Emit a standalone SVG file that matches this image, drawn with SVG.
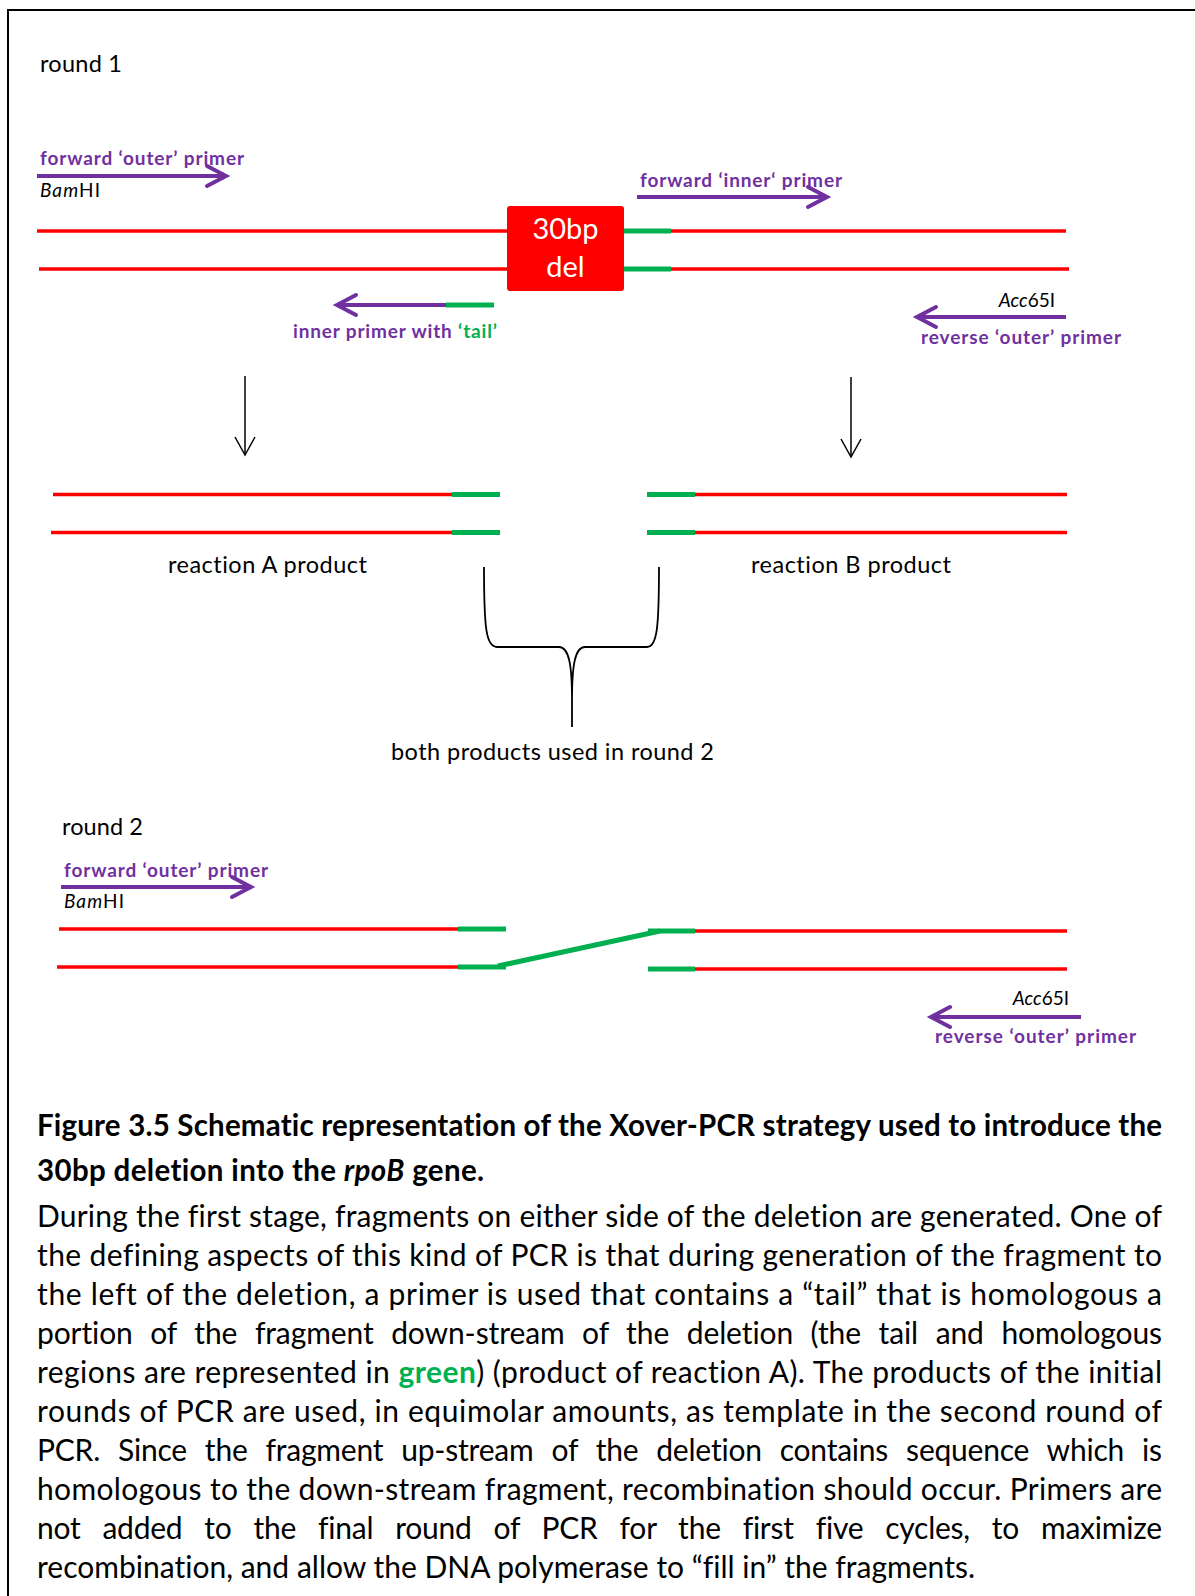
<svg xmlns="http://www.w3.org/2000/svg" width="1195" height="1596" viewBox="0 0 1195 1596">
<style>
text{font-family:Lato,"Liberation Sans",sans-serif;font-variant-ligatures:none;}
.lbl{font-size:23.5px;fill:#000}
.pr{font-size:19px;font-weight:bold;fill:#7030A0}
.site{font-size:19px;fill:#000}
.red{stroke:#FF0000;stroke-width:3.5;fill:none}
.grn{stroke:#00B050;stroke-width:5;fill:none}
.pur{stroke:#7030A0;stroke-width:4;fill:none}
.blk{stroke:#000;stroke-width:1.5;fill:none}
.cap{font-size:30px;fill:#000}
.capb{font-size:29.5px;font-weight:bold;fill:#000}
</style>
<defs>
<marker id="chev" markerUnits="userSpaceOnUse" viewBox="-24 -14 28 28" markerWidth="28" markerHeight="28" refX="0" refY="0" orient="auto" overflow="visible"><path d="M-19,-10 L0,0 L-19,10" fill="none" stroke="#7030A0" stroke-width="4" stroke-linecap="round"/></marker>
<marker id="vee" markerUnits="userSpaceOnUse" viewBox="-20 -12 24 24" markerWidth="24" markerHeight="24" refX="0" refY="0" orient="auto" overflow="visible"><path d="M-18,-10 L0,0 L-18,10" fill="none" stroke="#000" stroke-width="1.5"/></marker>
</defs>
<rect x="0" y="0" width="1195" height="1596" fill="#fff"/>
<rect x="8" y="10" width="1200" height="1600" fill="none" stroke="#000" stroke-width="2"/>

<g id="round1-label"><text x="40" y="72" class="lbl" textLength="82">round 1</text></g>

<g id="round1-dna">
<line x1="37" y1="231" x2="507" y2="231" class="red"/>
<line x1="39" y1="269" x2="507" y2="269" class="red"/>
<line x1="624" y1="231" x2="671" y2="231" class="grn"/>
<line x1="624" y1="269" x2="671" y2="269" class="grn"/>
<line x1="671" y1="231" x2="1066" y2="231" class="red"/>
<line x1="671" y1="269" x2="1069" y2="269" class="red"/>
</g>
<g id="deletion-box">
<rect x="507" y="206" width="117" height="85" rx="3" fill="#FF0000"/>
<text x="565.5" y="239" text-anchor="middle" font-size="29" fill="#fff">30bp</text>
<text x="565.5" y="277" text-anchor="middle" font-size="29" fill="#fff">del</text>
</g>

<g id="r1-forward-outer">
<text x="40" y="165" class="pr" textLength="204">forward ‘outer’ primer</text>
<line x1="37" y1="176" x2="226" y2="176" class="pur" marker-end="url(#chev)"/>
<text x="40" y="197" class="site" textLength="60"><tspan font-style="italic">Bam</tspan>HI</text>
</g>
<g id="r1-forward-inner">
<text x="640" y="187" class="pr" textLength="202">forward ‘inner‘ primer</text>
<line x1="637" y1="197" x2="827" y2="197" class="pur" marker-end="url(#chev)"/>
</g>
<g id="r1-inner-tail">
<line x1="446" y1="305" x2="494" y2="305" class="grn"/>
<line x1="446" y1="305" x2="337" y2="305" class="pur" marker-end="url(#chev)"/>
<text x="293" y="338" class="pr" textLength="204">inner primer with <tspan fill="#00B050">‘tail’</tspan></text>
</g>
<g id="r1-reverse-outer">
<text x="1055" y="307" class="site" text-anchor="end"><tspan font-style="italic">Acc</tspan>65I</text>
<line x1="1066" y1="317" x2="917" y2="317" class="pur" marker-end="url(#chev)"/>
<text x="921" y="344" class="pr" textLength="200">reverse ‘outer’ primer</text>
</g>

<g id="reaction-a">
<line x1="53" y1="494.5" x2="452" y2="494.5" class="red"/>
<line x1="51" y1="532.5" x2="452" y2="532.5" class="red"/>
<line x1="452" y1="494.5" x2="500" y2="494.5" class="grn"/>
<line x1="452" y1="532.5" x2="500" y2="532.5" class="grn"/>
<text x="168" y="573" class="lbl" textLength="199">reaction A product</text>
</g>
<g id="reaction-b">
<line x1="647" y1="494.5" x2="695" y2="494.5" class="grn"/>
<line x1="647" y1="532.5" x2="695" y2="532.5" class="grn"/>
<line x1="695" y1="494.5" x2="1067" y2="494.5" class="red"/>
<line x1="695" y1="532.5" x2="1067" y2="532.5" class="red"/>
<text x="751" y="573" class="lbl" textLength="200">reaction B product</text>
</g>
<g id="both-label"><text x="391" y="760" class="lbl" textLength="323">both products used in round 2</text></g>

<g id="connectors">
<line x1="245" y1="376" x2="245" y2="455" class="blk" marker-end="url(#vee)"/>
<line x1="851" y1="377" x2="851" y2="457" class="blk" marker-end="url(#vee)"/>
<path d="M484,567 C484,628 486,647 497,647 L559,647 C569,647 572,665 572,700 L572,727 M659,567 C659,628 657,647 647,647 L585,647 C575,647 572,665 572,700" fill="none" stroke="#000" stroke-width="1.8"/>
</g>

<g id="round2-label"><text x="62" y="835" class="lbl" textLength="81">round 2</text></g>
<g id="round2-dna">
<line x1="59" y1="929" x2="458" y2="929" class="red"/>
<line x1="57" y1="967" x2="458" y2="967" class="red"/>
<line x1="458" y1="929" x2="506" y2="929" class="grn"/>
<line x1="458" y1="967" x2="506" y2="967" class="grn"/>
<line x1="498" y1="966" x2="660" y2="931" class="grn" stroke-width="6"/>
<line x1="648" y1="931" x2="695" y2="931" class="grn"/>
<line x1="648" y1="969" x2="695" y2="969" class="grn"/>
<line x1="695" y1="931" x2="1067" y2="931" class="red"/>
<line x1="695" y1="969" x2="1067" y2="969" class="red"/>
</g>
<g id="r2-forward-outer">
<text x="64" y="877" class="pr" textLength="204">forward ‘outer’ primer</text>
<line x1="61" y1="887" x2="251" y2="887" class="pur" marker-end="url(#chev)"/>
<text x="64" y="908" class="site" textLength="60"><tspan font-style="italic">Bam</tspan>HI</text>
</g>
<g id="r2-reverse-outer">
<text x="1069" y="1005" class="site" text-anchor="end"><tspan font-style="italic">Acc</tspan>65I</text>
<line x1="1081" y1="1017" x2="931" y2="1017" class="pur" marker-end="url(#chev)"/>
<text x="935" y="1043" class="pr" textLength="201">reverse ‘outer’ primer</text>
</g>

<g id="caption">
<text x="37" y="1136" class="capb" textLength="1125">Figure 3.5 Schematic representation of the Xover-PCR strategy used to introduce the</text>
<text x="37" y="1181" class="capb" textLength="447">30bp deletion into the <tspan font-style="italic">rpoB</tspan> gene.</text>
<text x="37" y="1227" class="cap" textLength="1125">During the first stage, fragments on either side of the deletion are generated. One of</text>
<text x="37" y="1266" class="cap" textLength="1125">the defining aspects of this kind of PCR is that during generation of the fragment to</text>
<text x="37" y="1305" class="cap" textLength="1125">the left of the deletion, a primer is used that contains a “tail” that is homologous a</text>
<text x="37" y="1344" class="cap" textLength="1125" word-spacing="10">portion of the fragment down-stream of the deletion (the tail and homologous</text>
<text x="37" y="1383" class="cap" textLength="1125">regions are represented in <tspan font-weight="bold" fill="#00B050">green</tspan>) (product of reaction A). The products of the initial</text>
<text x="37" y="1422" class="cap" textLength="1125">rounds of PCR are used, in equimolar amounts, as template in the second round of</text>
<text x="37" y="1461" class="cap" textLength="1125" word-spacing="10.5">PCR. Since the fragment up-stream of the deletion contains sequence which is</text>
<text x="37" y="1500" class="cap" textLength="1125">homologous to the down-stream fragment, recombination should occur. Primers are</text>
<text x="37" y="1539" class="cap" textLength="1125" word-spacing="14.5">not added to the final round of PCR for the first five cycles, to maximize</text>
<text x="37" y="1578" class="cap" textLength="938">recombination, and allow the DNA polymerase to “fill in” the fragments.</text>
</g>
</svg>
